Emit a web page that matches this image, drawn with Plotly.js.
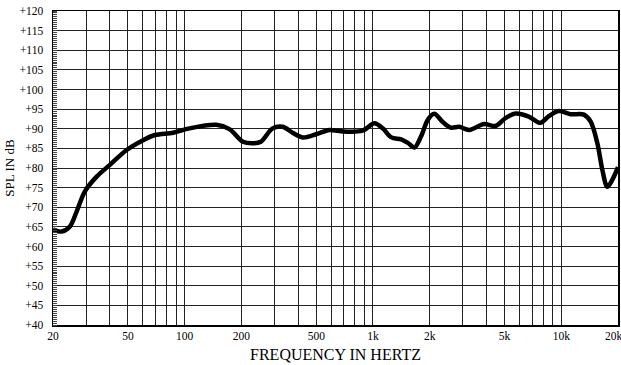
<!DOCTYPE html>
<html>
<head>
<meta charset="utf-8">
<script src="https://cdn.plot.ly/plotly-3.0.1.min.js"></script>
<style>html,body{margin:0;padding:0;background:#fff;}#chart{width:621px;height:365px;}</style>
</head>
<body>
<div id="chart"></div>
<script>
const freqHz = [20, 22.2, 24.6, 26.7, 29.5, 34.1, 40.1, 49.2, 60.2, 69.5, 86.9, 106, 147, 173, 204, 230, 254, 293, 332, 374, 423, 498, 586, 647, 692, 880, 1018, 1126, 1252, 1411, 1532, 1660, 1798, 1952, 2114, 2338, 2590, 2868, 3241, 3890, 4466, 5051, 5720, 6720, 7740, 8580, 9700, 11180, 13180, 14320, 15540, 16520, 17540, 18620, 20000];
const splDb = [64.4, 63.8, 65.1, 68.9, 74.0, 77.8, 80.8, 84.6, 87.1, 88.4, 89.0, 90.1, 91.0, 89.9, 86.7, 86.3, 86.7, 90.1, 90.5, 89.0, 87.8, 88.6, 89.7, 89.5, 89.3, 89.5, 91.4, 90.1, 87.8, 87.3, 86.4, 85.2, 88.0, 92.2, 93.8, 91.8, 90.3, 90.5, 89.7, 91.2, 90.7, 92.7, 93.9, 93.1, 91.5, 93.2, 94.5, 93.7, 93.6, 91.8, 86.3, 79.5, 75.2, 76.9, 80.2];
const xGridVals = [20, 30, 40, 50, 60, 70, 80, 90, 100, 200, 300, 400, 500, 600, 700, 800, 900, 1000, 2000, 3000, 4000, 5000, 6000, 7000, 8000, 9000, 10000, 20000];
const xLabelMap = {20: "20", 50: "50", 100: "100", 200: "200", 500: "500", 1000: "1k", 2000: "2k", 5000: "5k", 10000: "10k", 20000: "20k\u00a0\u00a0\u00a0"};
const yTickVals = [40, 45, 50, 55, 60, 65, 70, 75, 80, 85, 90, 95, 100, 105, 110, 115, 120];
const yTickText = yTickVals.map(v => "+" + v);

const fontFam = "Liberation Serif, DejaVu Serif, serif";

const trace = {
  x: freqHz, y: splDb, type: "scatter", mode: "lines",
  line: {color: "#000", width: 4.5, shape: "spline", smoothing: 0.9},
  hoverinfo: "skip", cliponaxis: true
};

const layout = {
  width: 621, height: 365,
  margin: {l: 53, r: 3, t: 11, b: 40},
  paper_bgcolor: "#fff", plot_bgcolor: "#fff",
  showlegend: false,
  font: {family: fontFam, color: "#000", size: 11},
  xaxis: {
    type: "log",
    range: [Math.log10(20), Math.log10(20000)],
    tickmode: "array",
    tickvals: xGridVals,
    ticktext: xGridVals.map(v => xLabelMap[v] || ""),
    ticklabeloverflow: "allow",
    showgrid: true, gridcolor: "#222", gridwidth: 1,
    showline: true, linecolor: "#000", linewidth: 1.5, mirror: true,
    ticks: "", zeroline: false,
    tickfont: {family: fontFam, size: 11.5, color: "#000"},
    title: {text: "FREQUENCY IN HERTZ", font: {family: fontFam, size: 16, color: "#000"}, standoff: 7}
  },
  yaxis: {
    range: [40, 120],
    tickmode: "array",
    tickvals: yTickVals,
    ticktext: yTickText,
    showgrid: true, gridcolor: "#222", gridwidth: 1,
    showline: true, linecolor: "#000", linewidth: 1.5, mirror: true,
    ticks: "", zeroline: false,
    ticklabelstandoff: 6,
    tickfont: {family: fontFam, size: 11.5, color: "#000"},
    minor: {dtick: 0.5, ticks: "inside", ticklen: 4, tickcolor: "#444", tickwidth: 1, showgrid: false},
    title: {text: "SPL IN dB", font: {family: fontFam, size: 13, color: "#000"}, standoff: 2}
  }
};

Plotly.newPlot("chart", [trace], layout, {displayModeBar: false, staticPlot: true});
</script>
</body>
</html>
